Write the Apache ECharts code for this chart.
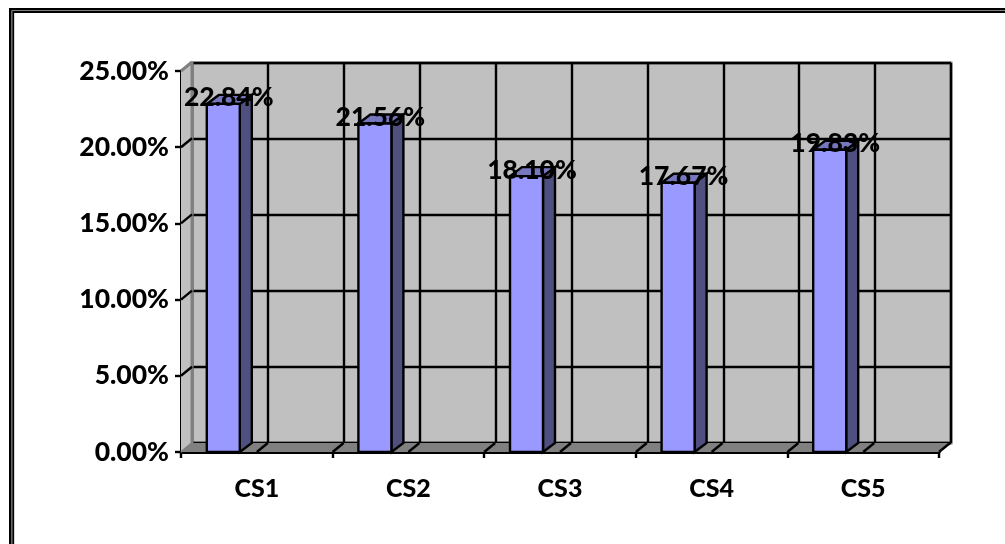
<!DOCTYPE html>
<html>
<head>
<meta charset="utf-8">
<style>html,body{margin:0;padding:0;background:#fff}#c{width:1005px;height:544px}</style>
<script src="https://cdn.jsdelivr.net/npm/echarts@6/dist/echarts.min.js"></script>
</head>
<body>
<div id="c"></div>
<script>
const categories = ['CS1', 'CS2', 'CS3', 'CS4', 'CS5'];
const values = [22.84, 21.56, 18.10, 17.67, 19.83];
const valueTicks = [0, 5, 10, 15, 20, 25];
const wallDividers = [0.5, 1, 1.5, 2, 2.5, 3, 3.5, 4, 4.5];

// Oblique depth of the pseudo-3D box, in pixels
const DX = 11, DY = -9;
const FONT = 'Lato';
const BAR_W = 33, BAR_OFFSET = -33.5, BAR_DX = 12, BAR_DY = -9;

const chart = echarts.init(document.getElementById('c'), null, {renderer: 'canvas'});

const poly = (points, fill, stroke, lineWidth) => ({
  type: 'polygon',
  shape: {points},
  style: {fill, stroke: stroke || null, lineWidth: lineWidth || 0}
});
const seg = (x1, y1, x2, y2, color, w) => ({
  type: 'line',
  shape: {x1, y1, x2, y2},
  style: {stroke: color, lineWidth: w}
});

chart.setOption({
  animation: false,
  backgroundColor: '#fff',
  graphic: [
    // double page frame, running off the right and bottom edges
    {type: 'rect', silent: true, shape: {x: 10.3, y: 9.3, width: 1100, height: 600}, style: {fill: 'none', stroke: '#000', lineWidth: 2.6}},
    {type: 'rect', silent: true, shape: {x: 13.2, y: 12, width: 1100, height: 600}, style: {fill: 'none', stroke: '#000', lineWidth: 1.9}}
  ],
  grid: [
    // back wall
    {left: 192, top: 63, width: 759, height: 380, show: true, backgroundColor: '#c0c0c0', borderColor: '#808080', borderWidth: 3, z: 0},
    // front plane carrying the axes and columns
    {left: 181, top: 71, width: 758, height: 381}
  ],
  xAxis: [
    {gridIndex: 0, type: 'value', min: 0, max: 5, interval: 0.5,
     axisLabel: {show: false}, axisTick: {show: false}, axisLine: {show: false},
     splitLine: {show: true, lineStyle: {color: '#000', width: 2.4}}},
    {gridIndex: 1, type: 'category', data: categories, boundaryGap: true,
     axisLine: {lineStyle: {color: '#000', width: 3}},
     axisTick: {show: true, length: 6, lineStyle: {color: '#000', width: 2.4}, alignWithLabel: false},
     axisLabel: {color: '#000', fontFamily: FONT, fontWeight: 900, fontSize: 25, margin: 24},
     splitLine: {show: false}}
  ],
  yAxis: [
    {gridIndex: 0, type: 'value', min: 0, max: 25, interval: 5,
     axisLabel: {show: false}, axisTick: {show: false}, axisLine: {show: false},
     splitLine: {show: true, lineStyle: {color: '#000', width: 2.4}}},
    {gridIndex: 1, type: 'value', min: 0, max: 25, interval: 5,
     axisLine: {show: true, lineStyle: {color: '#000', width: 3}},
     axisTick: {show: true, length: 6, lineStyle: {color: '#000', width: 2.4}},
     axisLabel: {color: '#000', fontFamily: FONT, fontWeight: 900, fontSize: 26.5, margin: 12,
                 padding: [3, 0, 0, 0],
                 formatter: v => v.toFixed(2) + '%'},
     splitLine: {show: false}}
  ],
  series: [
    // side wall and floor
    {
      type: 'custom', xAxisIndex: 1, yAxisIndex: 1, z: 2, silent: true,
      coordinateSystem: 'cartesian2d',
      data: [0],
      renderItem(params, api) {
        const r = params.coordSys;
        const left = r.x, right = r.x + r.width, bottom = r.y + r.height, top = r.y;
        const children = [
          poly([[left, top], [left + DX, top + DY], [left + DX, bottom + DY], [left, bottom]], '#c0c0c0'),
          poly([[left, bottom], [left + DX, bottom + DY], [right + DX, bottom + DY], [right, bottom]], '#808080'),
          seg(left + DX, top + DY, left, top, '#808080', 3),
          seg(left + DX, bottom + DY, left, bottom, '#808080', 2),
          seg(left + DX, top + DY, left + DX, bottom + DY, '#808080', 3),
          seg(right + DX, bottom + DY, right, bottom, '#000', 2.4)
        ];
        // diagonal rules across the side wall
        valueTicks.forEach(t => {
          if (t === 0 || t === 25) return;
          const y = api.coord([0, t])[1];
          children.push(seg(left, y, left + DX, y + DY, '#000', 2.4));
        });
        // diagonal rules across the floor, one per wall divider
        wallDividers.forEach(d => {
          const x = left + (d / 5) * r.width;
          children.push(seg(x, bottom, x + DX, bottom + DY, '#000', 2.4));
        });
        return {type: 'group', children};
      }
    },
    // columns
    {
      type: 'custom', xAxisIndex: 1, yAxisIndex: 1, z: 3, silent: true,
      coordinateSystem: 'cartesian2d',
      encode: {x: 0, y: 1},
      data: values.map((v, i) => [i, v]),
      renderItem(params, api) {
        const c = api.coord([api.value(0), api.value(1)]);
        const base = api.coord([api.value(0), 0]);
        const x0 = c[0] + BAR_OFFSET - BAR_W / 2, x1 = x0 + BAR_W;
        const yt = c[1], yb = base[1];
        const dx = BAR_DX, dy = BAR_DY;
        const stroke = '#000', w = 2.4;
        return {type: 'group', children: [
          poly([[x1, yt], [x1 + dx, yt + dy], [x1 + dx, yb + dy], [x1, yb]], '#4f4f80', stroke, w),
          poly([[x0, yt], [x0 + dx, yt + dy], [x1 + dx, yt + dy], [x1, yt]], '#7777c0', stroke, w),
          {type: 'rect', shape: {x: x0, y: yt, width: BAR_W, height: yb - yt},
           style: {fill: '#9999ff', stroke, lineWidth: w}}
        ]};
      }
    },
    // value labels, over the columns
    {
      type: 'custom', xAxisIndex: 1, yAxisIndex: 1, z: 5, silent: true,
      coordinateSystem: 'cartesian2d',
      encode: {x: 0, y: 1},
      data: values.map((v, i) => [i, v]),
      renderItem(params, api) {
        const c = api.coord([api.value(0), api.value(1)]);
        return {
          type: 'text',
          style: {
            x: c[0] + BAR_OFFSET + 5.5, y: c[1] + BAR_DY + 3,
            text: api.value(1).toFixed(2) + '%',
            fill: '#000', align: 'center', verticalAlign: 'middle',
            fontFamily: FONT, fontWeight: 900, fontSize: 26.5
          }
        };
      }
    }
  ]
});
</script>
</body>
</html>
